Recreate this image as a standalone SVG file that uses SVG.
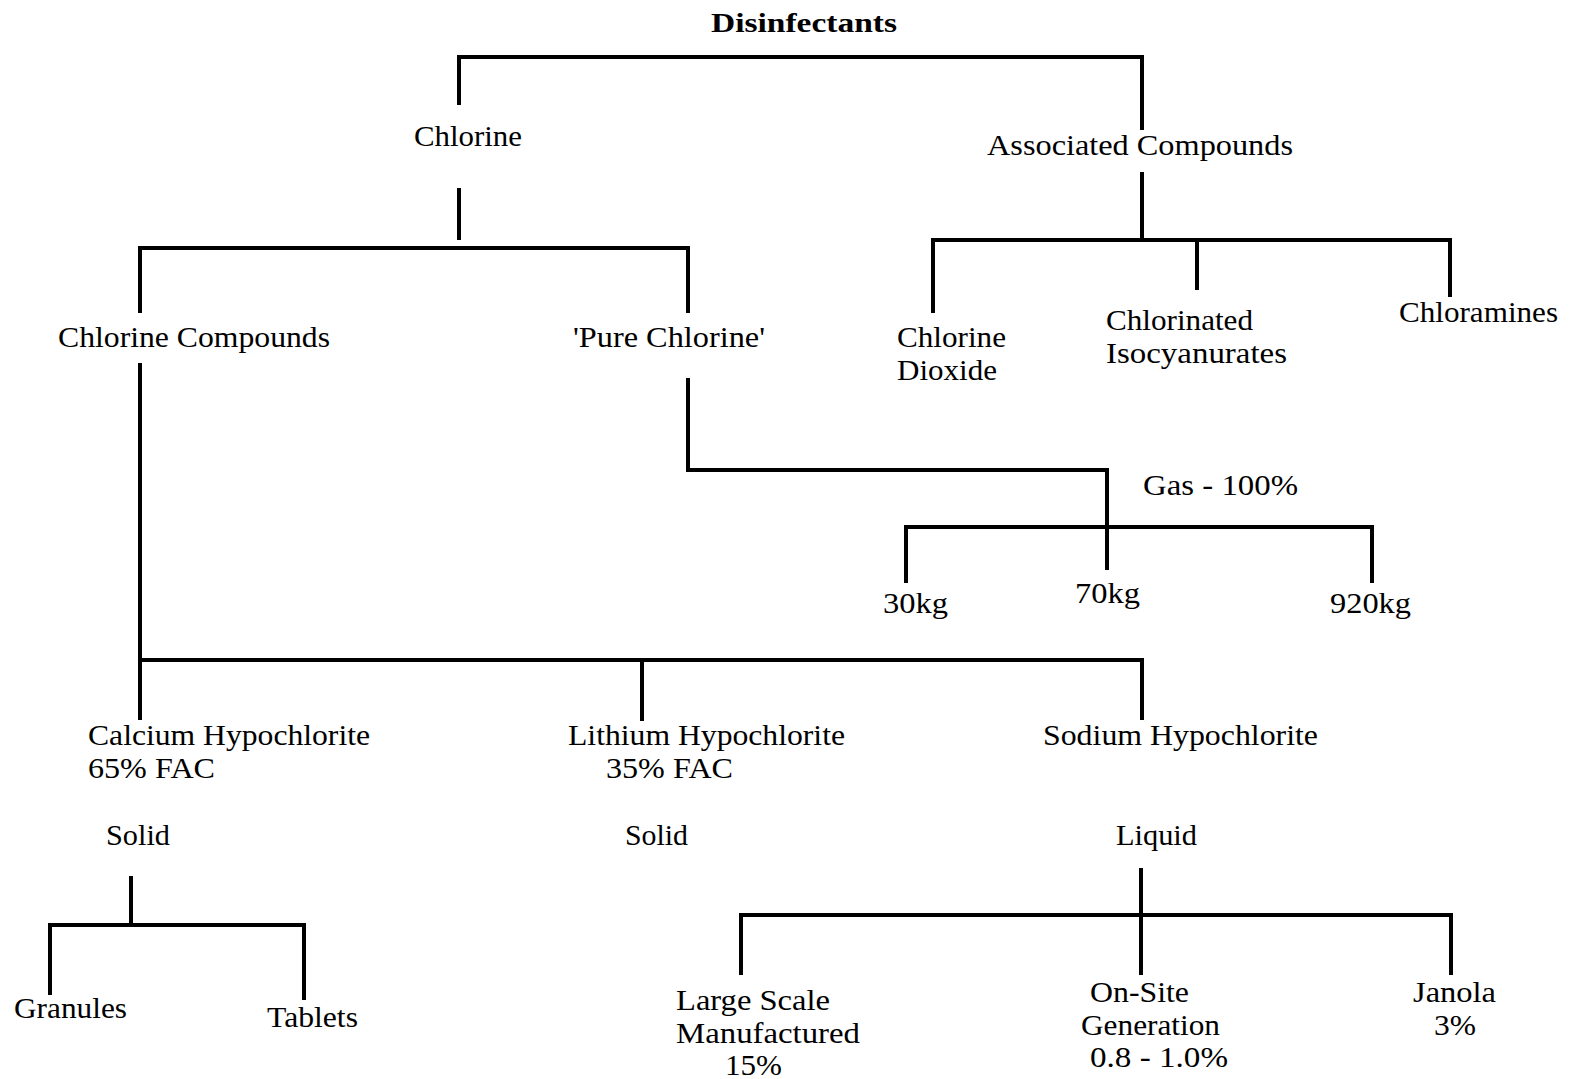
<svg xmlns="http://www.w3.org/2000/svg" width="1570" height="1079" viewBox="0 0 1570 1079">
<style>
.c{fill:none;stroke:#000;stroke-width:4;stroke-linecap:butt;stroke-linejoin:miter}
text{font-family:'Liberation Serif',serif;font-size:30px;fill:#000}
.b{font-weight:bold;font-size:28px}
</style>
<rect width="1570" height="1079" fill="#fff"/>
<g id="connectors">
<path class="c" d="M459,105 V57 H1142 V130"/>
<path class="c" d="M459,188 V240"/>
<path class="c" d="M1142,172 V240"/>
<path class="c" d="M140,313 V248 H688 V313"/>
<path class="c" d="M933,313 V240 H1450 V297"/>
<path class="c" d="M1197,240 V290"/>
<path class="c" d="M688,378 V470 H1107 V570"/>
<path class="c" d="M906,583 V527 H1372 V583"/>
<path class="c" d="M140,363 V720"/>
<path class="c" d="M140,660 H1142 V720"/>
<path class="c" d="M642,660 V721"/>
<path class="c" d="M131,876 V925"/>
<path class="c" d="M50,995 V925 H304 V1000"/>
<path class="c" d="M1141,868 V975"/>
<path class="c" d="M741,975 V915 H1451 V975"/>
</g>
<g id="n-disinfectants"><text class="b" x="711" y="32" textLength="186" lengthAdjust="spacingAndGlyphs">Disinfectants</text></g>
<g id="n-chlorine"><text x="414" y="146" textLength="108" lengthAdjust="spacingAndGlyphs">Chlorine</text></g>
<g id="n-associated"><text x="987" y="155" textLength="306" lengthAdjust="spacingAndGlyphs">Associated Compounds</text></g>
<g id="n-chlorine-compounds"><text x="58" y="347" textLength="272" lengthAdjust="spacingAndGlyphs">Chlorine Compounds</text></g>
<g id="n-pure-chlorine"><text x="573" y="347" textLength="192" lengthAdjust="spacingAndGlyphs">'Pure Chlorine'</text></g>
<g id="n-chlorine-dioxide"><text x="897" y="347" textLength="109" lengthAdjust="spacingAndGlyphs">Chlorine</text><text x="897" y="380" textLength="100" lengthAdjust="spacingAndGlyphs">Dioxide</text></g>
<g id="n-isocyanurates"><text x="1106" y="330" textLength="147" lengthAdjust="spacingAndGlyphs">Chlorinated</text><text x="1106" y="363" textLength="181" lengthAdjust="spacingAndGlyphs">Isocyanurates</text></g>
<g id="n-chloramines"><text x="1399" y="322" textLength="159" lengthAdjust="spacingAndGlyphs">Chloramines</text></g>
<g id="n-gas"><text x="1143" y="495" textLength="155" lengthAdjust="spacingAndGlyphs">Gas - 100%</text></g>
<g id="n-30kg"><text x="883" y="613" textLength="65" lengthAdjust="spacingAndGlyphs">30kg</text></g>
<g id="n-70kg"><text x="1075" y="603" textLength="65" lengthAdjust="spacingAndGlyphs">70kg</text></g>
<g id="n-920kg"><text x="1330" y="613" textLength="81" lengthAdjust="spacingAndGlyphs">920kg</text></g>
<g id="n-calcium"><text x="88" y="745" textLength="282" lengthAdjust="spacingAndGlyphs">Calcium Hypochlorite</text><text x="88" y="778" textLength="127" lengthAdjust="spacingAndGlyphs">65% FAC</text></g>
<g id="n-lithium"><text x="568" y="745" textLength="277" lengthAdjust="spacingAndGlyphs">Lithium Hypochlorite</text><text x="606" y="778" textLength="127" lengthAdjust="spacingAndGlyphs">35% FAC</text></g>
<g id="n-sodium"><text x="1043" y="745" textLength="275" lengthAdjust="spacingAndGlyphs">Sodium Hypochlorite</text></g>
<g id="n-solid-1"><text x="106" y="845" textLength="64" lengthAdjust="spacingAndGlyphs">Solid</text></g>
<g id="n-solid-2"><text x="625" y="845" textLength="63" lengthAdjust="spacingAndGlyphs">Solid</text></g>
<g id="n-liquid"><text x="1116" y="845" textLength="81" lengthAdjust="spacingAndGlyphs">Liquid</text></g>
<g id="n-granules"><text x="14" y="1018" textLength="113" lengthAdjust="spacingAndGlyphs">Granules</text></g>
<g id="n-tablets"><text x="267" y="1027" textLength="91" lengthAdjust="spacingAndGlyphs">Tablets</text></g>
<g id="n-large-scale"><text x="676" y="1010" textLength="154" lengthAdjust="spacingAndGlyphs">Large Scale</text><text x="676" y="1043" textLength="184" lengthAdjust="spacingAndGlyphs">Manufactured</text><text x="725" y="1075" textLength="57" lengthAdjust="spacingAndGlyphs">15%</text></g>
<g id="n-on-site"><text x="1090" y="1002" textLength="99" lengthAdjust="spacingAndGlyphs">On-Site</text><text x="1081" y="1035" textLength="139" lengthAdjust="spacingAndGlyphs">Generation</text><text x="1090" y="1067" textLength="138" lengthAdjust="spacingAndGlyphs">0.8 - 1.0%</text></g>
<g id="n-janola"><text x="1413" y="1002" textLength="83" lengthAdjust="spacingAndGlyphs">Janola</text><text x="1434" y="1035" textLength="42" lengthAdjust="spacingAndGlyphs">3%</text></g>
</svg>
